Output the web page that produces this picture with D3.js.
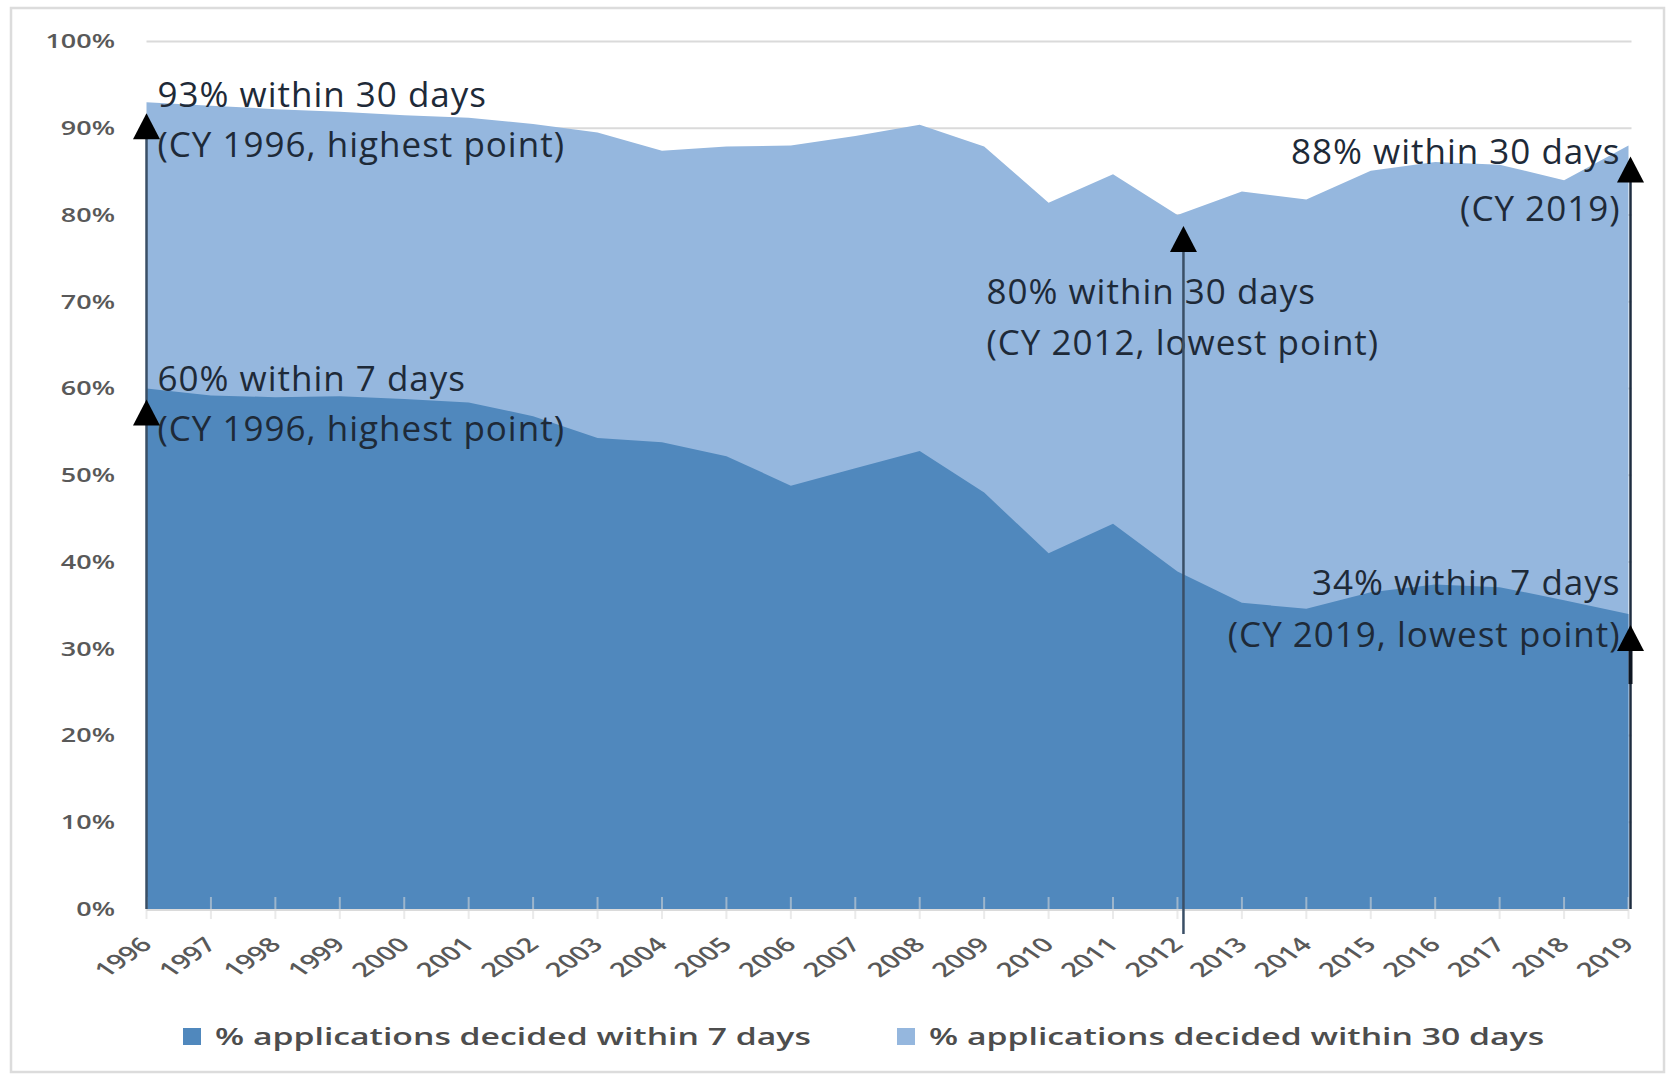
<!DOCTYPE html>
<html>
<head>
<meta charset="utf-8">
<script src="https://cdn.jsdelivr.net/npm/d3@7"></script>
<style>
  html, body { margin: 0; padding: 0; background: #ffffff; }
  svg { display: block; }
</style>
</head>
<body>
<svg id="chart" width="1678" height="1076"></svg>
<script>
// Calendar years on the x axis
const years = [1996, 1997, 1998, 1999, 2000, 2001, 2002, 2003, 2004, 2005, 2006, 2007,
               2008, 2009, 2010, 2011, 2012, 2013, 2014, 2015, 2016, 2017, 2018, 2019];

// % of applications decided within 30 days
const within30 = [93, 92.6, 92.2, 91.9, 91.5, 91.2, 90.5, 89.5, 87.4, 87.9, 88.0, 89.1,
                  90.4, 87.9, 81.4, 84.7, 80.0, 82.7, 81.8, 85.1, 86.1, 85.8, 84.0, 88];

// % of applications decided within 7 days
const within7 = [60, 59.2, 59.0, 59.1, 58.8, 58.4, 56.8, 54.3, 53.8, 52.2, 48.8, 50.8,
                 52.8, 48.0, 41.0, 44.4, 38.9, 35.3, 34.6, 36.5, 37.4, 37.1, 35.6, 34];

// Y axis ticks (percent)
const yTicks = [0, 10, 20, 30, 40, 50, 60, 70, 80, 90, 100];

// Legend entries
const seriesNames = ["% applications decided within 7 days", "% applications decided within 30 days"];

// Call-outs: year, value and the two text lines
const notes = [
  { id: "hi30", year: 1996, value: 93, lines: ["93% within 30 days", "(CY 1996, highest point)"] },
  { id: "hi7",  year: 1996, value: 60, lines: ["60% within 7 days", "(CY 1996, highest point)"] },
  { id: "lo30", year: 2012, value: 80, lines: ["80% within 30 days", "(CY 2012, lowest point)"] },
  { id: "end30", year: 2019, value: 88, lines: ["88% within 30 days", "(CY 2019)"] },
  { id: "lo7",  year: 2019, value: 34, lines: ["34% within 7 days", "(CY 2019, lowest point)"] }
];

// ---- layout & style ----
const colDark = "#5088bd", colLight = "#95b7de";
const gridCol = "#dadada", labelCol = "#595959", noteCol = "#1e2a38";
const stretch = 1.5; // axis/legend text is drawn wide

const svg = d3.select("#chart");
const x = d3.scaleLinear().domain([1996, 2019]).range([146.5, 1628.5]);
const y = d3.scaleLinear().domain([0, 100]).range([909, 41.5]);

// outer frame
svg.append("rect")
  .attr("x", 11).attr("y", 8).attr("width", 1653).attr("height", 1064)
  .attr("fill", "none").attr("stroke", "#dcdcdc").attr("stroke-width", 2.5);

// horizontal gridlines
svg.append("g").selectAll("line")
  .data(yTicks.filter(d => d > 0))
  .join("line")
  .attr("x1", x(1996)).attr("x2", x(2019) + 3)
  .attr("y1", d => y(d)).attr("y2", d => y(d))
  .attr("stroke", gridCol).attr("stroke-width", 2);

const rows = years.map((yr, i) => ({ year: yr, v30: within30[i], v7: within7[i] }));

// 30-day area (behind)
svg.append("path")
  .datum(rows)
  .attr("fill", colLight)
  .attr("d", d3.area().x(d => x(d.year)).y0(y(0)).y1(d => y(d.v30)));

// 7-day area (front)
svg.append("path")
  .datum(rows)
  .attr("fill", colDark)
  .attr("d", d3.area().x(d => x(d.year)).y0(y(0)).y1(d => y(d.v7)));

// x axis line and tick marks
svg.append("line")
  .attr("x1", x(1996)).attr("x2", x(2019))
  .attr("y1", y(0) + 1).attr("y2", y(0) + 1)
  .attr("stroke", gridCol).attr("stroke-width", 2);
svg.append("g").selectAll("line")
  .data(years)
  .join("line")
  .attr("x1", d => x(d)).attr("x2", d => x(d))
  .attr("y1", y(0) - 12).attr("y2", y(0) + 10)
  .attr("stroke", gridCol).attr("stroke-width", 2).attr("opacity", 0.55);

// y tick labels
svg.append("g").selectAll("text")
  .data(yTicks)
  .join("text")
  .attr("transform", d => `translate(115,${y(d)}) scale(1.42,1)`)
  .attr("dy", "0.36em")
  .attr("text-anchor", "end")
  .attr("font-family", "'Open Sans', sans-serif")
  .attr("font-weight", 600)
  .attr("font-size", 19)
  .attr("fill", labelCol)
  .text(d => d + "%");

// x tick labels, slanted
svg.append("g").selectAll("text")
  .data(years)
  .join("text")
  .attr("transform", d => `translate(${x(d) + 7},${y(0) + 37}) scale(1.45,1) rotate(-45)`)
  .attr("text-anchor", "end")
  .attr("font-family", "'Open Sans', sans-serif")
  .attr("font-weight", 600)
  .attr("font-size", 20)
  .attr("fill", labelCol)
  .text(d => d);

// call-out text placement relative to the annotated point
const noteLayout = {
  hi30:  { dx: 11,   dy: 5,   gap: 50, anchor: "start" },
  hi7:   { dx: 11,   dy: 2,   gap: 50, anchor: "start" },
  lo30:  { dx: -191, dy: 89,  gap: 51, anchor: "start" },
  end30: { dx: -8,   dy: 18,  gap: 57, anchor: "end" },
  lo7:   { dx: -8,   dy: -19, gap: 52, anchor: "end" }
};

const noteG = svg.append("g")
  .attr("font-family", "'Open Sans', sans-serif")
  .attr("font-size", 35)
  .attr("letter-spacing", 1)
  .attr("fill", noteCol);

notes.forEach(n => {
  const L = noteLayout[n.id];
  const t = noteG.append("text")
    .attr("text-anchor", L.anchor)
    .attr("x", x(n.year) + L.dx)
    .attr("y", y(n.value) + L.dy);
  n.lines.forEach((line, i) => {
    t.append("tspan")
      .attr("x", x(n.year) + L.dx)
      .attr("dy", i === 0 ? 0 : L.gap)
      .text(line);
  });
});

// arrows: stem from a base up to a filled head just under the point
const arrowLayout = {
  hi30:  { dx: 0, base: y(0),      stem: "#3a4f66", sw: 2.5 },
  hi7:   { dx: 0, base: null,      stem: "#3a4f66", sw: 2.5 },
  lo30:  { dx: 6, base: y(0) + 25, stem: "#3a4f66", sw: 2.5 },
  end30: { dx: 2, base: y(0),      stem: "#1e2d40", sw: 2.5 },
  lo7:   { dx: 2, base: y(34) + 70, stem: "#0d1521", sw: 4 }
};
const headW = 27, headH = 26, tipGap = 11;

const arrowG = svg.append("g");
notes.forEach(n => {
  const A = arrowLayout[n.id];
  const ax = x(n.year) + A.dx;
  const tip = y(n.value) + tipGap;
  if (A.base !== null) {
    arrowG.append("line")
      .attr("x1", ax).attr("x2", ax)
      .attr("y1", A.base).attr("y2", tip + headH - 2)
      .attr("stroke", A.stem).attr("stroke-width", A.sw);
  }
  arrowG.append("path")
    .attr("d", d3.line()([[ax, tip], [ax - headW / 2, tip + headH], [ax + headW / 2, tip + headH]]) + "Z")
    .attr("fill", "#000000");
});

// legend
const legendX = [183, 897];
const legendG = svg.append("g");
seriesNames.forEach((name, i) => {
  legendG.append("rect")
    .attr("x", legendX[i]).attr("y", 1028)
    .attr("width", 18).attr("height", 17)
    .attr("fill", i === 0 ? colDark : colLight);
  legendG.append("text")
    .attr("transform", `translate(${legendX[i] + 32},1045) scale(${stretch},1)`)
    .attr("font-family", "'Open Sans', sans-serif")
    .attr("font-weight", 600)
    .attr("font-size", 22.5)
    .attr("fill", "#4d4d4d")
    .text(name);
});
</script>
</body>
</html>
